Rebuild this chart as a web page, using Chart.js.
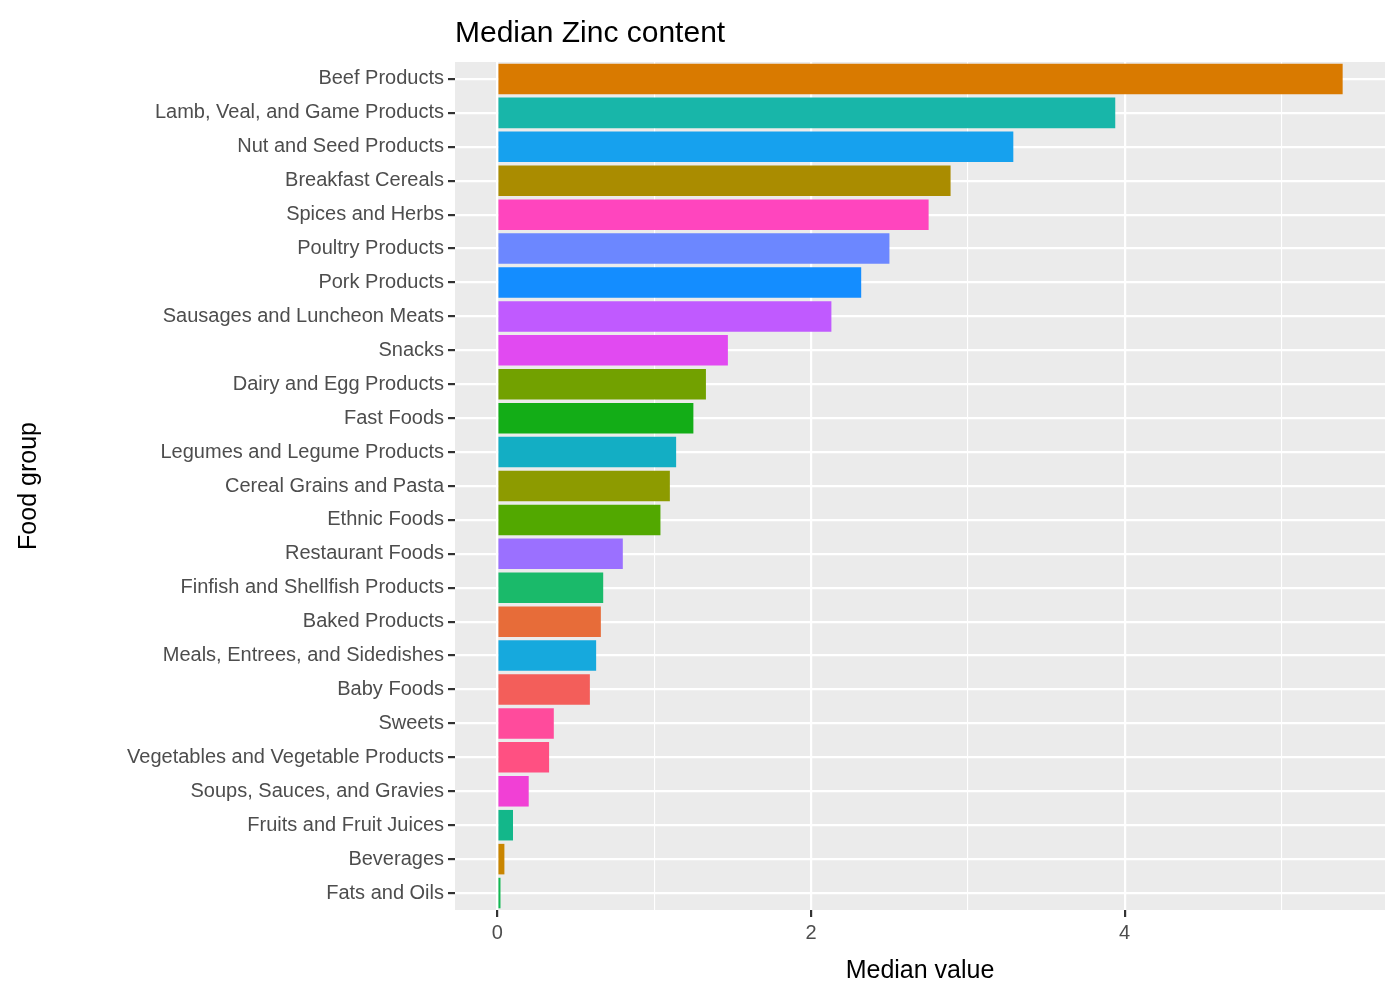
<!DOCTYPE html>
<html>
<head>
<meta charset="utf-8">
<script src="https://cdn.jsdelivr.net/npm/chart.js@4.4.0/dist/chart.umd.min.js"></script>
<style>
  html, body { margin: 0; padding: 0; background: #fff; }
  #wrap { width: 1400px; height: 1000px; }
</style>
</head>
<body>
<div id="wrap"><canvas id="grafico"></canvas></div>
<script>
// ── Datos ─────────────────────────────
const categorias = [
  'Beef Products', 'Lamb, Veal, and Game Products', 'Nut and Seed Products',
  'Breakfast Cereals', 'Spices and Herbs', 'Poultry Products', 'Pork Products',
  'Sausages and Luncheon Meats', 'Snacks', 'Dairy and Egg Products', 'Fast Foods',
  'Legumes and Legume Products', 'Cereal Grains and Pasta', 'Ethnic Foods',
  'Restaurant Foods', 'Finfish and Shellfish Products', 'Baked Products',
  'Meals, Entrees, and Sidedishes', 'Baby Foods', 'Sweets',
  'Vegetables and Vegetable Products', 'Soups, Sauces, and Gravies',
  'Fruits and Fruit Juices', 'Beverages', 'Fats and Oils'
]
const medianas = [
  5.39, 3.94, 3.29, 2.89, 2.75, 2.50, 2.32, 2.13, 1.47, 1.33, 1.25, 1.14,
  1.10, 1.04, 0.80, 0.675, 0.66, 0.63, 0.59, 0.36, 0.33, 0.20, 0.10, 0.045, 0.02
]
const colores = [
  '#D97A00', '#18B6A9', '#16A1EE', '#AA8C00', '#FF45BE', '#6C87FF', '#148DFF',
  '#C05AFF', '#E14AF1', '#72A100', '#13AD17', '#13AEC4', '#8D9B00', '#52A800',
  '#9B70FF', '#1ABA6A', '#E76C39', '#16A9DD', '#F35E5A', '#FF4B9C', '#FF5082',
  '#F140D5', '#13B78A', '#C98500', '#12B852'
]
const etiquetasX = [0, 2, 4]

// ── Plugins ───────────────────────────
const fondoPanel = {
  id: 'fondoPanel',
  beforeDraw(chart) {
    const { ctx, chartArea: a } = chart
    ctx.save()
    ctx.fillStyle = '#EBEBEB'
    ctx.fillRect(a.left, a.top, a.right - a.left, a.bottom - a.top)
    ctx.restore()
  }
}
const tituloIzq = {
  id: 'tituloIzq',
  afterDraw(chart) {
    const { ctx, chartArea: a } = chart
    ctx.save()
    ctx.fillStyle = '#000'
    ctx.font = "30px 'Liberation Sans', Arial, sans-serif"
    ctx.textBaseline = 'alphabetic'
    ctx.fillText('Median Zinc content', a.left, 42)
    ctx.restore()
  }
}

const fuente = "'Liberation Sans', Arial, sans-serif"

new Chart(document.getElementById('grafico'), {
  type: 'bar',
  data: {
    labels: categorias,
    datasets: [{
      data: medianas,
      backgroundColor: colores,
      barPercentage: 0.9,
      categoryPercentage: 1
    }]
  },
  options: {
    indexAxis: 'y',
    responsive: true,
    maintainAspectRatio: false,
    animation: false,
    layout: { padding: { left: 10, right: 15, top: 62, bottom: 10 } },
    plugins: { legend: { display: false }, tooltip: { enabled: false } },
    scales: {
      x: {
        min: -0.27,
        max: 5.66,
        afterBuildTicks: s => { s.ticks = [0, 1, 2, 3, 4, 5].map(v => ({ value: v })) },
        afterFit: s => { s.height = 80 },
        grid: {
          color: '#fff',
          lineWidth: c => etiquetasX.includes(c.tick && c.tick.value) ? 2.2 : 1.1,
          tickColor: c => etiquetasX.includes(c.tick && c.tick.value) ? '#333' : 'rgba(0,0,0,0)',
          tickLength: 7,
          drawBorder: false
        },
        border: { display: false },
        ticks: {
          color: '#4D4D4D',
          font: { family: fuente, size: 20 },
          padding: 4,
          callback: v => etiquetasX.includes(v) ? v : ''
        },
        title: { display: true, text: 'Median value', color: '#000', font: { family: fuente, size: 25 }, padding: { top: 0 } }
      },
      y: {
        afterFit: s => { s.width = 445 },
        grid: { color: '#fff', lineWidth: 2.2, tickColor: '#333', tickLength: 7, offset: false },
        border: { display: false },
        ticks: { color: '#4D4D4D', font: { family: fuente, size: 20 }, padding: 4 },
        title: { display: true, text: 'Food group', color: '#000', font: { family: fuente, size: 25 } }
      }
    }
  },
  plugins: [fondoPanel, tituloIzq]
})
</script>
</body>
</html>
